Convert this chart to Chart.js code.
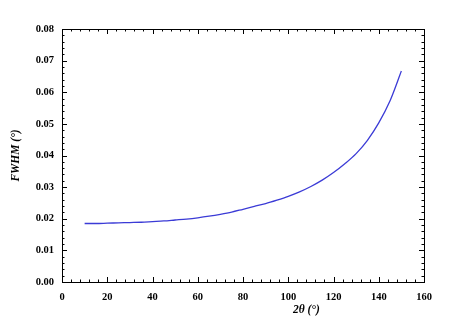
<!DOCTYPE html>
<html>
<head>
<meta charset="utf-8">
<script src="https://cdn.jsdelivr.net/npm/chart.js@4.4.1/dist/chart.umd.min.js"></script>
<style>
  html, body { margin: 0; padding: 0; background: #fff; }
  canvas { display: block; }
</style>
</head>
<body>
<canvas id="fwhmChart" width="457" height="325"></canvas>
<script>
// 2theta (deg) and FWHM (deg)
const twoTheta = [10, 15, 20, 25, 30, 35, 40, 45, 50, 55, 60, 65, 70, 75, 80, 85, 90, 95, 100, 105, 110, 115, 120, 125, 130, 135, 140, 145, 150];
const fwhm = [0.0185, 0.0185, 0.0186, 0.0187, 0.0188, 0.0189, 0.0191, 0.0193, 0.0196, 0.0199, 0.0203, 0.0208, 0.0214, 0.0221, 0.0230, 0.0239, 0.0248, 0.0259, 0.0271, 0.0285, 0.0302, 0.0322, 0.0346, 0.0374, 0.0406, 0.0448, 0.0503, 0.0573, 0.0667];

const xTicks = [0, 20, 40, 60, 80, 100, 120, 140, 160];
const yTicks = [0.00, 0.01, 0.02, 0.03, 0.04, 0.05, 0.06, 0.07, 0.08];

const serif = '"Liberation Serif", "Times New Roman", serif';

// frame, inward ticks on all four sides, axis titles
const framePlugin = {
    id: 'frame',
    afterDraw(chart) {
        const ctx = chart.ctx;
        const a = chart.chartArea;
        const xs = chart.scales.x, ys = chart.scales.y;
        ctx.save();
        ctx.strokeStyle = '#000';
        ctx.lineWidth = 1;
        ctx.strokeRect(Math.round(a.left) + 0.5, Math.round(a.top) + 0.5,
            Math.round(a.right - a.left), Math.round(a.bottom - a.top));

        ctx.beginPath();
        // x ticks, minor every 4
        for (let v = 0; v <= 160; v += 4) {
            const px = Math.round(xs.getPixelForValue(v)) + 0.5;
            const len = (v % 20 === 0) ? 5 : 2.5;
            ctx.moveTo(px, a.bottom); ctx.lineTo(px, a.bottom - len);
            ctx.moveTo(px, a.top); ctx.lineTo(px, a.top + len);
        }
        // y ticks, minor every 0.002
        for (let i = 0; i <= 40; i++) {
            const py = Math.round(ys.getPixelForValue(i * 0.002)) + 0.5;
            const len = (i % 5 === 0) ? 5 : 2.5;
            ctx.moveTo(a.left, py); ctx.lineTo(a.left + len, py);
            ctx.moveTo(a.right, py); ctx.lineTo(a.right - len, py);
        }
        ctx.stroke();

        ctx.fillStyle = '#000';
        ctx.font = 'italic bold 11.5px ' + serif;
        ctx.textAlign = 'center';
        ctx.textBaseline = 'middle';
        ctx.fillText('2θ (°)', xs.getPixelForValue(108), 310);

        ctx.translate(16, (a.top + a.bottom) / 2);
        ctx.rotate(-Math.PI / 2);
        ctx.fillText('FWHM (°)', 0, 0);
        ctx.restore();
    }
};

new Chart(document.getElementById('fwhmChart'), {
    type: 'line',
    data: {
        datasets: [{
            data: twoTheta.map((x, i) => ({ x: x, y: fwhm[i] })),
            borderColor: '#3b3bd6',
            borderWidth: 1.3,
            pointRadius: 0,
            cubicInterpolationMode: 'monotone',
            fill: false
        }]
    },
    options: {
        responsive: false,
        animation: false,
        layout: { padding: { left: 0, top: 29, right: 33, bottom: 0 } },
        plugins: { legend: { display: false }, tooltip: { enabled: false } },
        scales: {
            x: {
                type: 'linear',
                min: 0, max: 160,
                afterBuildTicks: s => { s.ticks = xTicks.map(v => ({ value: v })); },
                afterFit: s => { s.height = 43; },
                grid: { display: false, drawTicks: false },
                border: { display: false },
                ticks: { padding: 9, color: '#000', font: { family: serif, size: 10.5, weight: 'bold' } }
            },
            y: {
                min: 0, max: 0.08,
                afterBuildTicks: s => { s.ticks = yTicks.map(v => ({ value: v })); },
                afterFit: s => { s.width = 62; },
                grid: { display: false, drawTicks: false },
                border: { display: false },
                ticks: {
                    padding: 8, color: '#000',
                    font: { family: serif, size: 10.5, weight: 'bold' },
                    callback: v => v.toFixed(2)
                }
            }
        }
    },
    plugins: [framePlugin]
});
</script>
</body>
</html>
